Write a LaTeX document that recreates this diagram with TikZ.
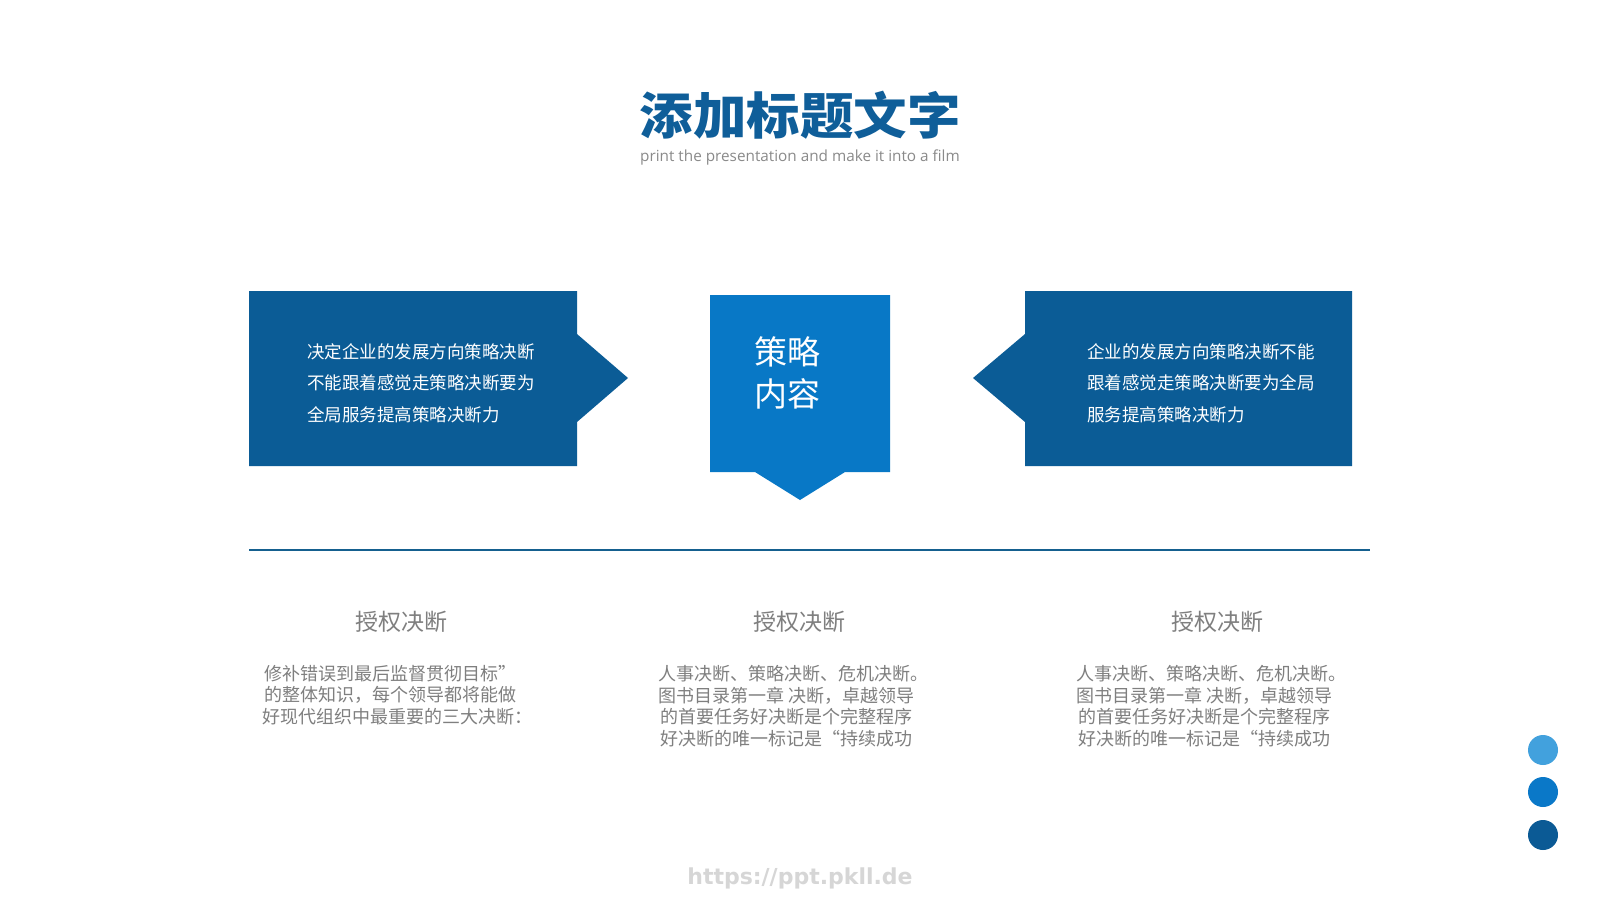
\documentclass[tikz,border=0pt]{standalone}
\usepackage{fontspec}
\setmainfont{Open Sans}
\newfontfamily\cjk{Noto Sans CJK SC}
\newfontfamily\wmfont{DejaVu Sans}
\definecolor{boxdark}{HTML}{0B5C96}
\definecolor{boxmid}{HTML}{0878C6}
\definecolor{titleblue}{HTML}{0F5E99}
\definecolor{subgray}{HTML}{8A8A8A}
\definecolor{txtgray}{HTML}{7F7F7F}
\definecolor{rulec}{HTML}{15608F}
\definecolor{dotA}{HTML}{42A1DD}
\definecolor{dotB}{HTML}{0A78C8}
\definecolor{dotC}{HTML}{0B5A95}
\definecolor{wmgray}{HTML}{D6D6D6}
\tikzset{
  boxtext/.style={text=white, font=\cjk\fontsize{17.5}{31.5}\selectfont, align=left, inner sep=0pt},
  headtext/.style={text=txtgray, font=\cjk\fontsize{23}{27}\selectfont, inner sep=0pt},
  bodytext/.style={text=txtgray, font=\cjk\fontsize{18}{21.5}\selectfont, align=left, inner sep=0pt, anchor=west},
  dot/.style={circle, minimum size=30pt, inner sep=0pt}
}
\begin{document}
\begin{tikzpicture}[x=1pt,y=-1pt]
\useasboundingbox (0,0) rectangle (1600,900);
\fill[white] (0,0) rectangle (1600,900);

% title
\node[text=titleblue, inner sep=0pt] (title) at (800,115) {\scalebox{1.07}[1]{\cjk\bfseries\fontsize{50}{56}\selectfont 添加标题文字}};
\node[text=subgray, inner sep=0pt, font=\fontsize{15.3}{18}\selectfont] (sub) at (800,157) {print the presentation and make it into a film};

% boxes
\fill[boxdark] (249,291) -- (577,291) -- (577,334) -- (628,378) -- (577,422) -- (577,466) -- (249,466) -- cycle;
\fill[boxmid] (710,295) -- (890,295) -- (890,472) -- (845,472) -- (800,500) -- (755,472) -- (710,472) -- cycle;
\fill[boxdark] (1025,291) -- (1352,291) -- (1352,466) -- (1025,466) -- (1025,422) -- (973,378) -- (1025,334) -- cycle;

\node[boxtext, anchor=west] (ltext) at (307,383) {决定企业的发展方向策略决断\\不能跟着感觉走策略决断要为\\全局服务提高策略决断力};
\node[boxtext, anchor=west] (rtext) at (1087,383) {企业的发展方向策略决断不能\\跟着感觉走策略决断要为全局\\服务提高策略决断力};
\node[text=white, font=\cjk\fontsize{33}{42}\selectfont, align=left, inner sep=0pt, anchor=west] (ctext) at (754,373) {策略\\内容};

% rule
\coordinate (ruleL) at (249,550);
\coordinate (ruleR) at (1370,550);
\draw[rulec, line width=1.05pt] (ruleL) -- (ruleR);

% headings
\node[headtext] (h1) at (401,622) {授权决断};
\node[headtext] (h2) at (799,622) {授权决断};
\node[headtext] (h3) at (1217,622) {授权决断};

% bodies
\node[bodytext] (b1) at (262,695) {\hspace*{2pt}修补错误到最后监督贯彻目标”\\\hspace*{2pt}的整体知识，每个领导都将能做\\好现代组织中最重要的三大决断：};
\node[bodytext] (b2) at (658,706) {人事决断、策略决断、危机决断。\\图书目录第一章 决断，卓越领导\\\hspace*{2pt}的首要任务好决断是个完整程序\\\hspace*{2pt}好决断的唯一标记是“持续成功};
\node[bodytext] (b3) at (1076,706) {人事决断、策略决断、危机决断。\\图书目录第一章 决断，卓越领导\\\hspace*{2pt}的首要任务好决断是个完整程序\\\hspace*{2pt}好决断的唯一标记是“持续成功};

% dots
\node[dot, fill=dotA] (d1) at (1543,750) {};
\node[dot, fill=dotB] (d2) at (1543,792) {};
\node[dot, fill=dotC] (d3) at (1543,835) {};

% watermark
\node[text=wmgray, font=\wmfont\bfseries\fontsize{22}{26}\selectfont, inner sep=0pt] (wm) at (800,878) {https://ppt.pkll.de};
\end{tikzpicture}
\end{document}
